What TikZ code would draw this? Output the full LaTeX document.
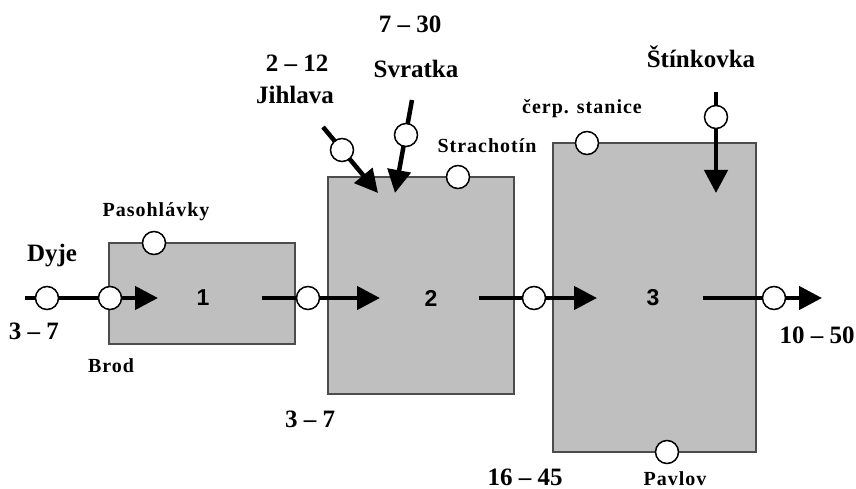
\documentclass[tikz,border=0pt]{standalone}
\usepackage{fontspec}
\setmainfont{Liberation Serif}
\newfontfamily\numfont{Liberation Sans}
\newfontfamily\spacedfont[LetterSpace=5]{Liberation Serif}
\usetikzlibrary{arrows.meta}

\begin{document}
\begin{tikzpicture}[x=1pt,y=-1pt,
  basin/.style={draw=black!70, line width=1.3pt, fill=black!25, inner sep=0pt},
  gauge/.style={circle, draw=black, line width=1.5pt, fill=white, minimum size=23pt, inner sep=0pt},
  flow/.style={line width=4.5pt, -{Triangle[length=23pt,width=23pt]}},
  biglbl/.style={font=\bfseries\fontsize{25}{28}\selectfont, inner sep=0pt, anchor=base},
  smalllbl/.style={font=\spacedfont\bfseries\fontsize{20}{23}\selectfont, inner sep=0pt, anchor=base},
  numlbl/.style={font=\numfont\bfseries\fontsize{23}{26}\selectfont, inner sep=0pt}
]
\useasboundingbox (0,0) rectangle (856,489);

% reservoirs
\node[basin, minimum width=186pt, minimum height=101pt] (b1) at (202,293.5) {};
\node[basin, minimum width=186pt, minimum height=217pt] (b2) at (421,285.5) {};
\node[basin, minimum width=203pt, minimum height=309pt] (b3) at (654.5,297.5) {};

\node[numlbl] (n1) at (203,298) {1};
\node[numlbl] (n2) at (431,298) {2};
\node[numlbl] (n3) at (653,298) {3};

% flow line end points
\coordinate (a0) at (25,298);   \coordinate (a1) at (158,298);
\coordinate (c0) at (262,298);  \coordinate (c1) at (380,298);
\coordinate (d0) at (479,298);  \coordinate (d1) at (597,298);
\coordinate (e0) at (703,298);  \coordinate (e1) at (822,298);
\coordinate (j0) at (323,127);  \coordinate (j1) at (378,193);
\coordinate (s0) at (412,100);  \coordinate (s1) at (395,193);
\coordinate (k0) at (716,92);   \coordinate (k1) at (716,193);

% flows
\draw[flow] (a0) -- (a1);
\draw[flow] (c0) -- (c1);
\draw[flow] (d0) -- (d1);
\draw[flow] (e0) -- (e1);
\draw[flow] (j0) -- (j1);
\draw[flow] (s0) -- (s1);
\draw[flow] (k0) -- (k1);

% gauging stations
\node[gauge] (g1)  at (47,298) {};
\node[gauge] (g2)  at (110,298) {};
\node[gauge] (g3)  at (154,243) {};
\node[gauge] (g4)  at (308,298) {};
\node[gauge] (g5)  at (342,150) {};
\node[gauge] (g6)  at (406,135) {};
\node[gauge] (g7)  at (458,177) {};
\node[gauge] (g8)  at (534,298) {};
\node[gauge] (g9)  at (587,143) {};
\node[gauge] (g10) at (716,117) {};
\node[gauge] (g11) at (667,452) {};
\node[gauge] (g12) at (774,298) {};

% river names and ranges
\node[biglbl] (tDyje) at (52,261) {Dyje};
\node[biglbl] (tIn) at (34,339) {3 – 7};
\node[biglbl] (tOut1) at (310,427) {3 – 7};
\node[biglbl] (tJr) at (297,72) {2 – 12};
\node[biglbl] (tJ) at (295,104) {Jihlava};
\node[biglbl] (tSr) at (410,33) {7 – 30};
\node[biglbl] (tS) at (416,78) {Svratka};
\node[biglbl] (tK) at (701,68) {Štínkovka};
\node[biglbl] (tOut2) at (525,485) {16 – 45};
\node[biglbl] (tOut3) at (817,343) {10 – 50};

% station names
\node[smalllbl] (tBrod) at (111,372) {Brod};
\node[smalllbl] (tPas) at (156,216) {Pasohlávky};
\node[smalllbl] (tStr) at (487,153) {Strachotín};
\node[smalllbl] (tCerp) at (582,114) {čerp. stanice};
\node[smalllbl] (tPav) at (675,485) {Pavlov};
\end{tikzpicture}
\end{document}
